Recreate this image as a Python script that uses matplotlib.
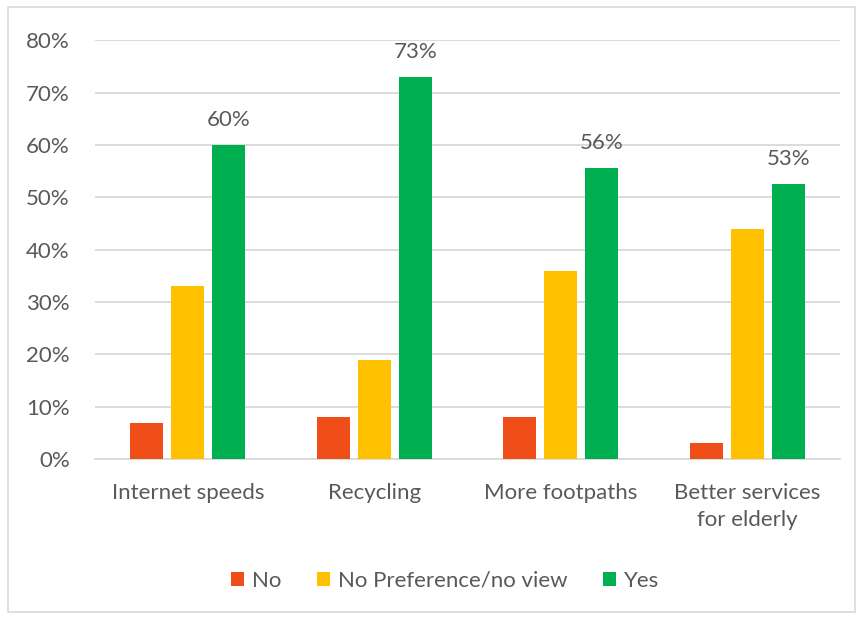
import matplotlib.pyplot as plt
import numpy as np
from matplotlib.patches import Rectangle
from matplotlib.ticker import PercentFormatter

plt.rcParams['font.family'] = ['Lato', 'DejaVu Sans']

categories = ['Internet speeds', 'Recycling', 'More footpaths', 'Better services\nfor elderly']
series = ['No', 'No Preference/no view', 'Yes']
no_vals = [0.07, 0.08, 0.08, 0.03]
nopref_vals = [0.33, 0.19, 0.36, 0.44]
yes_vals = [0.60, 0.73, 0.555, 0.525]
yes_labels = ['60%', '73%', '56%', '53%']

colors = ['#F04E18', '#FFC000', '#00B050']
text_col = '#595959'
fs = 16

fig = plt.figure(figsize=(8.61, 6.18), dpi=100)
ax = fig.add_axes([0.110, 0.257, 0.866, 0.678])

# frame around the chart
fig.patches.append(Rectangle((0.009, 0.010), 0.984, 0.978, transform=fig.transFigure,
                             fill=False, edgecolor='#D9D9D9', linewidth=1.2))

x = np.arange(len(categories))
step = 0.22
width = 0.177
for i, (vals, c, name) in enumerate(zip([no_vals, nopref_vals, yes_vals], colors, series)):
    ax.bar(x + (i - 1) * step, vals, width, color=c, label=name, zorder=3)

for xi, v, lab in zip(x, yes_vals, yes_labels):
    ax.text(xi + step, v + 0.029, lab, ha='center', va='bottom', fontsize=fs, color=text_col)

ax.set_xlim(-0.5, len(categories) - 0.5)
ax.set_ylim(0, 0.8)
ax.set_yticks(np.arange(0, 0.81, 0.1))
ax.yaxis.set_major_formatter(PercentFormatter(1.0, decimals=0))
ax.set_xticks(x)
ax.set_xticklabels(categories, linespacing=1.45)
ax.grid(axis='y', color='#D9D9D9', linewidth=1.3, zorder=0)
for s in ['top', 'right', 'left']:
    ax.spines[s].set_visible(False)
ax.spines['bottom'].set_color('#D9D9D9')
ax.spines['bottom'].set_linewidth(1.3)
ax.tick_params(axis='both', length=0, labelsize=fs, labelcolor=text_col)
ax.tick_params(axis='y', pad=18)
ax.tick_params(axis='x', pad=17)

ax.legend(loc='center', bbox_to_anchor=(0.5 - 0.03, -0.29), ncol=3, frameon=False,
          fontsize=fs, labelcolor=text_col, handlelength=0.6, handleheight=0.6,
          handletextpad=0.35, columnspacing=1.6)

fig.savefig('out.png', dpi=100)
